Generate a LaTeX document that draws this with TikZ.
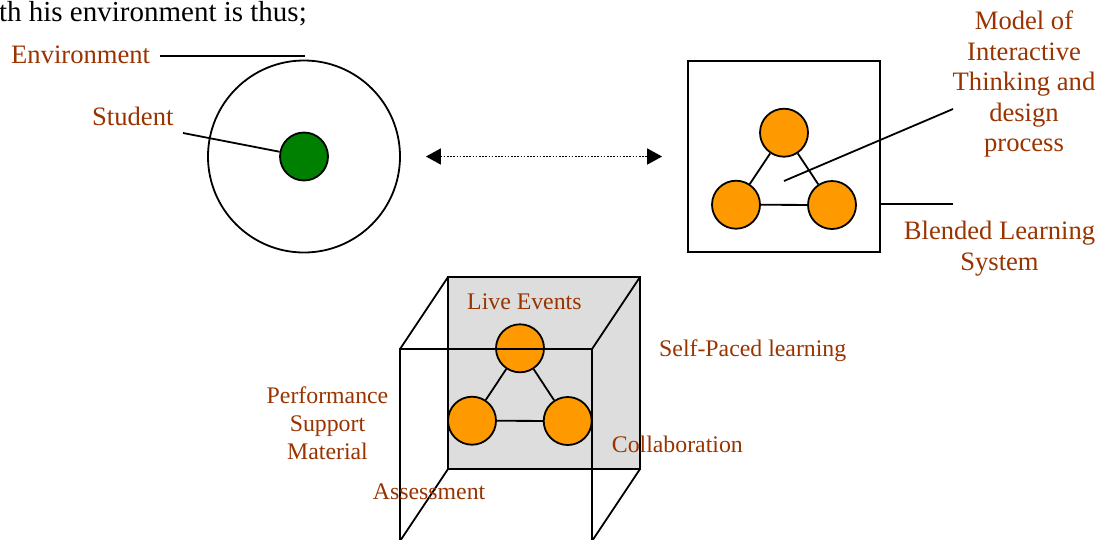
\documentclass[tikz,border=0pt]{standalone}
\usepackage{fontspec}
\setmainfont{Liberation Serif}
\usetikzlibrary{arrows.meta}
\definecolor{lbl}{HTML}{993300}
\definecolor{orng}{HTML}{FF9900}
\definecolor{grn}{HTML}{008000}
\definecolor{cubegray}{HTML}{DDDDDD}
\begin{document}
\begin{tikzpicture}[x=1pt,y=-1pt,
  lbig/.style={text=lbl, inner sep=0pt, font=\fontsize{26.6}{30.5}\selectfont},
  lsmall/.style={text=lbl, inner sep=0pt, font=\fontsize{23.8}{28}\selectfont},
  ball/.style={circle, draw, line width=1.8pt, fill=orng, minimum size=48pt, inner sep=0pt},
  edge/.style={line width=1.8pt},
  ]
\useasboundingbox (0,0) rectangle (1099,539);

% heading fragment
\node[anchor=base east, inner sep=0pt, font=\fontsize{29}{33}\selectfont] (head) at (307,21) {th his environment is thus;};

% environment / student
\node[circle, draw, line width=1.8pt, minimum size=192pt, inner sep=0pt] (envc) at (304,156.5) {};
\node[circle, draw, line width=1.8pt, fill=grn, minimum size=48pt, inner sep=0pt] (stud) at (304,156.5) {};
\node[lbig, anchor=base west] (envt) at (11,63) {Environment};
\node[lbig, anchor=base west] (studt) at (92,125) {Student};
\coordinate (envA) at (160,56);
\coordinate (envB) at (305,56);
\draw[edge] (envA) -- (envB);
\coordinate (studA) at (183,133);
\draw[edge] (studA) -- (stud);

% blended learning box
\node[draw, line width=1.8pt, minimum width=192pt, minimum height=191pt, inner sep=0pt] (bls) at (784,156.5) {};
\node[ball] (t1) at (784,132.7) {};
\node[ball] (t2) at (736,204.7) {};
\node[ball] (t3) at (832,205) {};
\draw[edge] (t1) -- (t2);
\draw[edge] (t1) -- (t3);
\draw[edge] (t2) -- (t3);
\coordinate (mA) at (784,181);
\coordinate (mB) at (953,109);
\draw[edge] (mA) -- (mB);
\coordinate (bA) at (880,204);
\coordinate (bB) at (953,204);
\draw[edge] (bA) -- (bB);
\node[lbig, align=center, anchor=base] (model) at (1024,151.5) {Model of\\Interactive\\Thinking and\\design\\process};
\node[lbig, align=center, anchor=base] (blst) at (999.5,270) {Blended Learning\\System};

% double arrow
\draw[line width=1.6pt, dash pattern=on 1.6pt off 1.6pt, {Triangle[length=15pt,width=16pt]}-{Triangle[length=15pt,width=16pt]}, shorten <=25pt, shorten >=25pt] (envc.east) -- (bls.west);

% cube
\coordinate (b1) at (448,277);
\coordinate (b2) at (640,277);
\coordinate (b3) at (640,469);
\coordinate (b4) at (448,469);
\coordinate (f1) at (400,349);
\coordinate (f2) at (592,349);
\coordinate (f3) at (592,541);
\coordinate (f4) at (400,541);
\draw[edge, fill=cubegray] (b1) -- (b2) -- (b3) -- (b4) -- cycle;
\draw[edge] (b1) -- (f1);
\draw[edge] (b2) -- (f2);
\draw[edge] (b3) -- (f3);
\draw[edge] (b4) -- (f4);
\node[ball] (c1) at (520,348.3) {};
\node[ball] (c2) at (472,420.7) {};
\node[ball] (c3) at (567.7,421) {};
\draw[edge] (c1) -- (c2);
\draw[edge] (c1) -- (c3);
\draw[edge] (c2) -- (c3);
\draw[edge] (f4) -- (f1) -- (f2) -- (f3);

\node[lsmall, anchor=base west] (live) at (467,309) {Live Events};
\node[lsmall, anchor=base west] (self) at (659,356.7) {Self-Paced learning};
\node[lsmall, align=center, anchor=base] (perf) at (327.5,459.3) {Performance\\Support\\Material};
\node[lsmall, anchor=base west] (coll) at (611.7,452.7) {Collaboration};
\node[lsmall, anchor=base west] (assess) at (372.7,499.3) {Assessment};
\end{tikzpicture}
\end{document}
